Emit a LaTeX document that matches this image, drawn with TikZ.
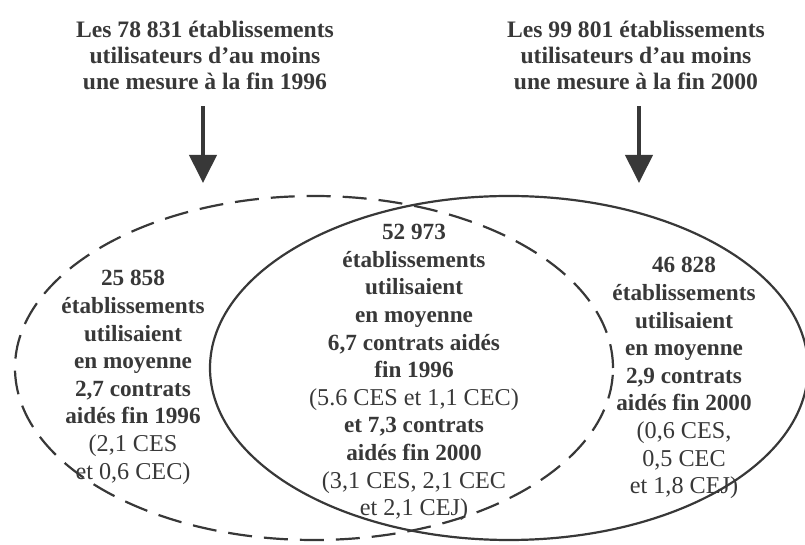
\documentclass[tikz,border=0pt]{standalone}
\usepackage{fontspec}
\setmainfont{Liberation Serif}
\usetikzlibrary{shapes.geometric}
\usetikzlibrary{arrows.meta}

\definecolor{ink}{gray}{0.22}
\newcommand{\reg}[1]{{\fontsize{12.1}{13.8}\selectfont\mdseries #1}}

\begin{document}
\begin{tikzpicture}[x=0.5pt, y=-0.5pt,
    every node/.style={text=ink, align=center, inner sep=0pt},
    headtext/.style={anchor=north, font=\fontsize{11.8}{13}\selectfont\bfseries},
    settext/.style={anchor=north, font=\fontsize{11.6}{13.8}\selectfont\bfseries},
    setshape/.style={ellipse, draw=ink, line width=1.1pt, minimum width=299pt, minimum height=172pt},
    arr/.style={color=ink, line width=2pt, shorten <=8pt, -{Triangle[width=13.5pt, length=14pt]}}]

    \useasboundingbox (0,0) rectangle (805,545);

    \node[setshape, dash pattern=on 12pt off 6pt] (set96) at (314,368) {};
    \node[setshape] (set00) at (509,368) {};

    \node[headtext] (head96) at (205,21) {Les 78 831 établissements\\utilisateurs d’au moins\\une mesure à la fin 1996};
    \node[headtext] (head00) at (636,21) {Les 99 801 établissements\\utilisateurs d’au moins\\une mesure à la fin 2000};

    \coordinate (tip96) at (203,183);
    \coordinate (tip00) at (639,183);

    \node[settext] (only96) at (133,270) {25 858\\établissements\\utilisaient\\en moyenne\\2,7 contrats\\aidés fin 1996\\\reg{(2,1 CES}\\\reg{et 0,6 CEC)}};

    \node[settext] (both) at (414,224) {52 973\\établissements\\utilisaient\\en moyenne\\6,7 contrats aidés\\fin 1996\\\reg{(5.6 CES et 1,1 CEC)}\\et 7,3 contrats\\aidés fin 2000\\\reg{(3,1 CES, 2,1 CEC}\\\reg{et 2,1 CEJ)}};

    \node[settext] (only00) at (684,257) {46 828\\établissements\\utilisaient\\en moyenne\\2,9 contrats\\aidés fin 2000\\\reg{(0,6 CES,}\\\reg{0,5 CEC}\\\reg{et 1,8 CEJ)}};

    \draw[arr] (head96.south -| tip96) to (tip96);
    \draw[arr] (head00.south -| tip00) to (tip00);
\end{tikzpicture}
\end{document}
